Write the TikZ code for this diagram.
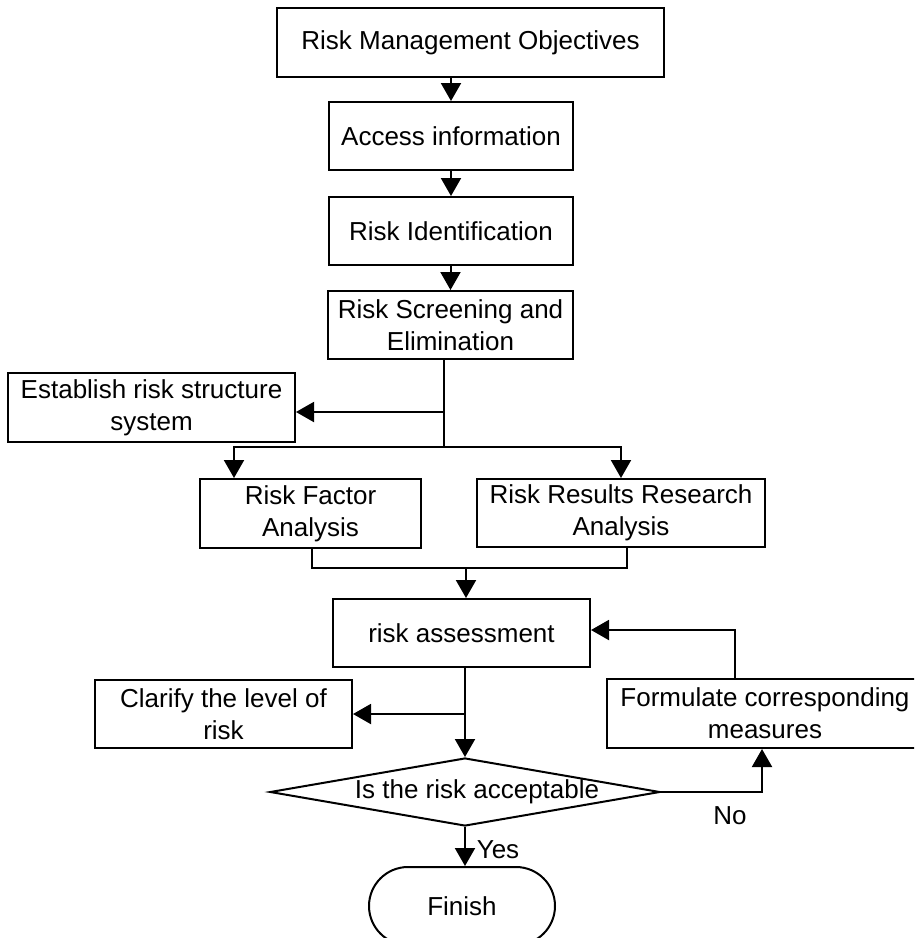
\documentclass[tikz,border=0pt]{standalone}
\usepackage{fontspec}
\setmainfont{Liberation Sans}
\usetikzlibrary{arrows.meta,shapes.geometric,shapes.misc,calc}
\begin{document}
\begin{tikzpicture}[x=1pt,y=-1pt,
  every node/.style={font=\fontsize{26}{32}\selectfont},
  box/.style={draw, line width=2pt, inner sep=0pt, align=center},
  ln/.style={line width=2pt},
  arr/.style={line width=2pt, -{Triangle[length=18pt,width=20pt]}},
  lbl/.style={inner sep=0pt}]
\useasboundingbox (0,0) rectangle (914,938);
\clip (0,0) rectangle (914,938);
\fill[white] (0,0) rectangle (914,938);

\node[box, minimum width=387pt, minimum height=69pt] (rmo) at (470.5,42.5) {Risk Management Objectives};
\node[box, minimum width=244pt, minimum height=68pt] (acc) at (451,136) {Access information};
\node[box, minimum width=244pt, minimum height=68pt] (rid) at (451,231) {Risk Identification};
\node[box, minimum width=245pt, minimum height=68pt] (scr) at (450.5,325) {Risk Screening and\\Elimination};
\node[box, minimum width=287pt, minimum height=69pt] (est) at (151.5,407.5) {Establish risk structure\\system};
\node[box, minimum width=221pt, minimum height=69pt] (rf) at (310.5,513.5) {Risk Factor\\Analysis};
\node[box, minimum width=288pt, minimum height=68pt] (rr) at (621,513) {Risk Results Research\\Analysis};
\node[box, minimum width=257pt, minimum height=68pt] (ra) at (461.5,633) {risk assessment};
\node[box, minimum width=257pt, minimum height=68pt] (cla) at (223.5,714) {Clarify the level of\\risk};
\node[box, minimum width=316pt, minimum height=69pt] (form) at (765,713.5) {Formulate corresponding\\measures};
\node[draw, line width=2pt, diamond, inner sep=0pt, minimum width=390pt, minimum height=68pt] (dia) at (465,792) {};
\node[lbl] (diat) at (477,792) {Is the risk acceptable};
\node[draw, line width=2pt, rounded rectangle, inner sep=0pt, minimum width=186pt, minimum height=78pt] (fin) at (462,906) {Finish};

\node[lbl] (no) at (730,816) {No};
\node[lbl] (yes) at (498,850) {Yes};

% main chain
\draw[arr] (acc.north |- rmo.south) -- (acc.north);
\draw[arr] (acc.south) -- (rid.north);
\draw[arr] (rid.south -| scr.north) -- (scr.north);

% split after screening
\coordinate (j1) at (444,447);
\coordinate (b1) at (444,412);
\draw[ln] (scr.south -| j1) -- (j1);
\draw[arr] (b1) -- (b1 -| est.east);
\draw[arr] (j1) -| ($(rf.north west)+(35,0)$);
\draw[arr] (j1) -| (rr.north);

% merge
\coordinate (m) at (466,568);
\draw[ln] ($(rf.south)+(1.5,0)$) |- (m);
\draw[ln] (m) -| ($(rr.south)+(6,0)$);
\draw[arr] (m) -- (m |- ra.north);

% assessment to decision
\coordinate (k) at (465,714);
\draw[arr] (ra.south -| dia.north) -- (dia.north);
\draw[arr] (k) -- (k -| cla.east);

% no loop
\draw[arr] (dia.east) -| ($(form.south)+(-3,0)$);
\draw[arr] ($(form.north)+(-30,0)$) |- ($(ra.east)+(0,-3)$);

% yes
\draw[arr] (dia.south) -- (dia.south |- fin.north);
\end{tikzpicture}
\end{document}
